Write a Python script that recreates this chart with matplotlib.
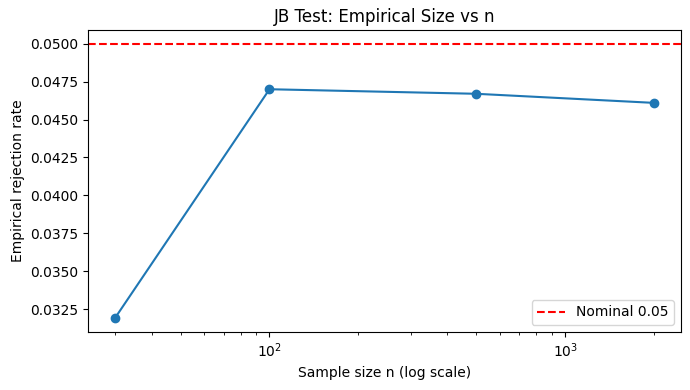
import matplotlib
matplotlib.use("Agg")
import matplotlib.pyplot as plt

# sample sizes and empirical rejection rates
n_values = [30, 100, 500, 2000]
reject_rates = [0.0319, 0.0470, 0.0467, 0.0461]
nominal = 0.05

fig, ax = plt.subplots(figsize=(6.9, 3.9), dpi=100)
ax.plot(n_values, reject_rates, marker='o')
ax.axhline(nominal, color='red', linestyle='--', label='Nominal 0.05')
ax.set_xscale('log')
ax.set_xlabel('Sample size n (log scale)')
ax.set_ylabel('Empirical rejection rate')
ax.set_title('JB Test: Empirical Size vs n')
ax.legend(loc='lower right')
fig.subplots_adjust(left=0.1275, right=0.987, top=0.923, bottom=0.149)
plt.savefig('out.png', dpi=100)
